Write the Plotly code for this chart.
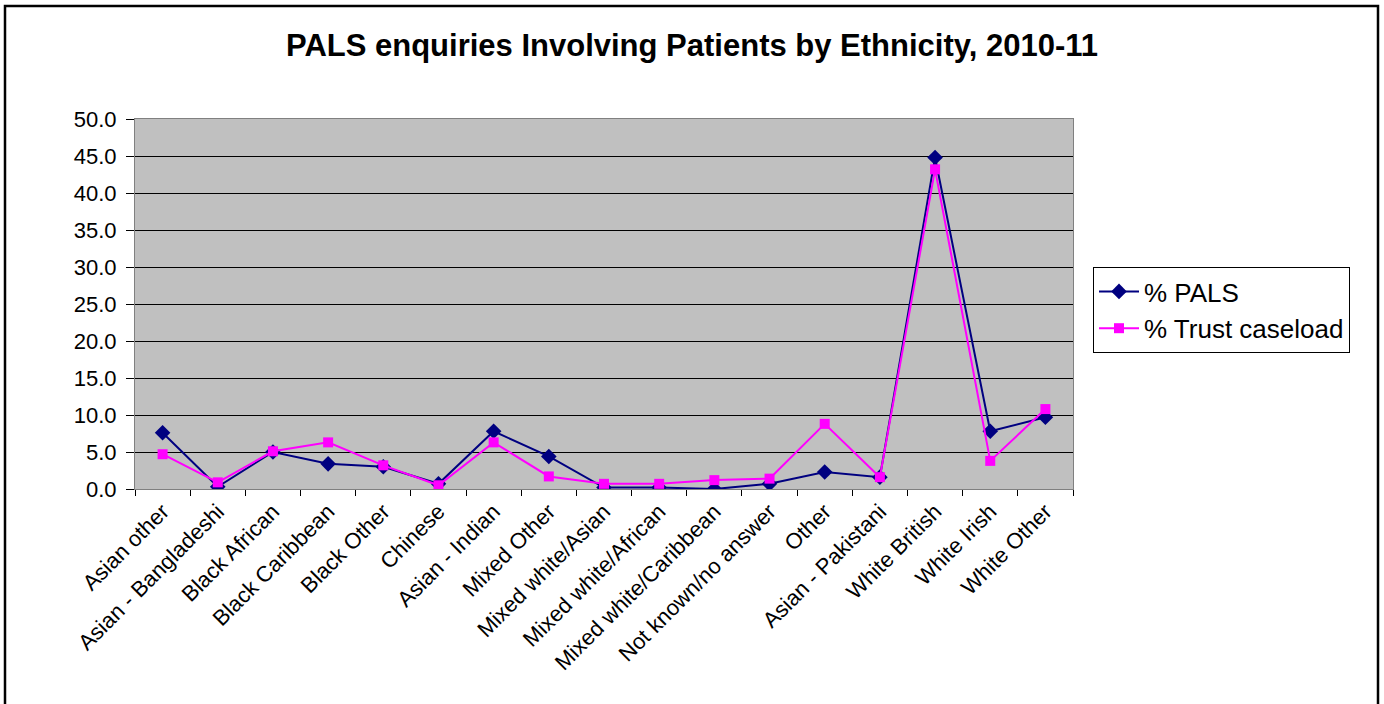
import plotly.graph_objects as go

categories = ["Asian other", "Asian - Bangladeshi", "Black African", "Black Caribbean",
              "Black Other", "Chinese", "Asian - Indian", "Mixed Other",
              "Mixed white/Asian", "Mixed white/African", "Mixed white/Caribbean",
              "Not known/no answer", "Other", "Asian - Pakistani", "White British",
              "White Irish", "White Other"]
pals = [7.6, 0.3, 5.0, 3.4, 3.0, 0.7, 7.8, 4.4, 0.2, 0.2, 0.0, 0.7, 2.3, 1.6, 44.8, 7.8, 9.7]
trust = [4.7, 0.9, 5.1, 6.3, 3.2, 0.5, 6.3, 1.7, 0.7, 0.7, 1.2, 1.4, 8.8, 1.6, 43.2, 3.8, 10.8]
yticks = [0, 5, 10, 15, 20, 25, 30, 35, 40, 45, 50]

FONT = "Liberation Sans, Arial, sans-serif"

fig = go.Figure()
fig.add_trace(go.Scatter(x=categories, y=pals, name="% PALS", mode="lines+markers",
                         line=dict(color="#000080", width=2),
                         marker=dict(symbol="diamond", size=12, color="#000080")))
fig.add_trace(go.Scatter(x=categories, y=trust, name="% Trust caseload", mode="lines+markers",
                         line=dict(color="#FF00FF", width=2),
                         marker=dict(symbol="square", size=10, color="#FF00FF")))

L, R, T, B = 135, 311, 119, 215
W, H = 1384, 704
pw, ph = W - L - R, H - T - B

def px_to_paper_x(px):
    return (px - L) / pw

def px_to_paper_y(py):
    return (H - B - py) / ph

fig.update_layout(
    width=W, height=H,
    margin=dict(l=L, r=R, t=T, b=B),
    paper_bgcolor="white", plot_bgcolor="#C0C0C0",
    font=dict(family=FONT, color="black", size=22),
    title=dict(text="<b>PALS enquiries Involving Patients by Ethnicity, 2010-11</b>",
               x=0.5, xref="container", xanchor="center", y=1 - 45 / H, yanchor="middle",
               font=dict(size=31, family=FONT)),
    showlegend=True,
    legend=dict(x=px_to_paper_x(1093), y=px_to_paper_y(267), xanchor="left", yanchor="top",
                bgcolor="white", bordercolor="black", borderwidth=1,
                font=dict(size=26, family=FONT), itemwidth=40, tracegroupgap=0),
    xaxis=dict(type="category", tickangle=-45, tickson="boundaries", ticks="outside",
               ticklen=6, tickcolor="black", showgrid=False, showline=True,
               linecolor="#808080", linewidth=1, mirror=True,
               tickfont=dict(size=22, family=FONT), range=[-0.5, 16.5]),
    yaxis=dict(range=[0, 50], tickvals=yticks, ticktext=[f"{v:.1f}" for v in yticks],
               ticks="outside", ticklen=8, tickcolor="black", ticklabelstandoff=5,
               showgrid=True, gridcolor="black", gridwidth=1,
               showline=True, linecolor="#808080", linewidth=1, mirror=True,
               zeroline=False, tickfont=dict(size=22, family=FONT)),
    shapes=[dict(type="rect", xref="paper", yref="paper",
                 x0=px_to_paper_x(5), x1=px_to_paper_x(1378),
                 y0=px_to_paper_y(720), y1=px_to_paper_y(6),
                 line=dict(color="black", width=2.5), fillcolor="rgba(0,0,0,0)",
                 layer="below")],
)

fig.write_html("out.html", config={"displayModeBar": False},
               post_script="document.body.style.margin='0';document.body.style.overflow='hidden';")
